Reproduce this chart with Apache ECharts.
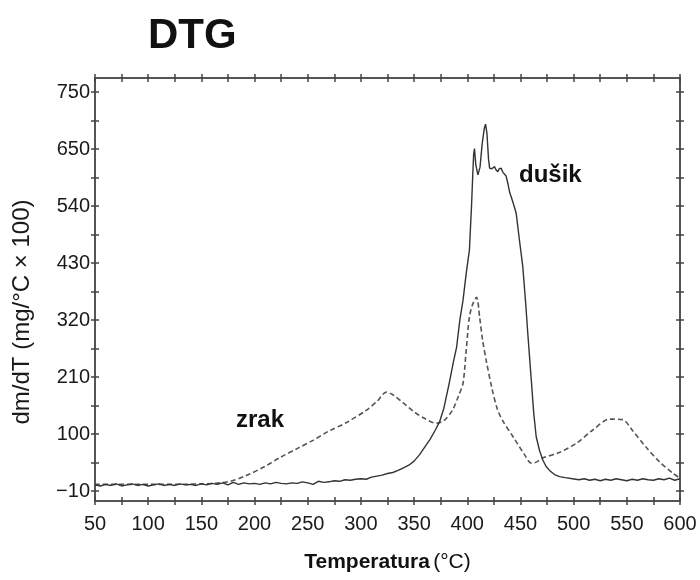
<!DOCTYPE html>
<html><head><meta charset="utf-8">
<script src="https://cdn.jsdelivr.net/npm/echarts@6/dist/echarts.min.js"></script>
<style>html,body{margin:0;padding:0;background:#fff}#c{width:700px;height:580px}</style>
</head><body><div id="c"></div>
<script>
// dušik (nitrogen) – solid curve
const tempDusik = [50,55,60,65,70,75,80,85,90,95,100,105,110,115,120,125,130,135,140,145,150,155,160,165,170,175,180,185,190,195,200,205,210,215,220,225,230,235,240,245,250,255,260,265,270,275,280,285,290,295,300,305,310,315,320,325,330,335,340,345,350,355,360,365,370,374,378,383,387,390,393,396,399,402,404,405.2,406,406.8,408,410,412,414,416,417.2,418.5,420,421,423,425.6,427,428.7,430,431.9,433.5,435,436.5,438.1,440,441.3,442.8,444,446,449,452.2,455,456.9,458.5,460.2,462.5,464.8,468,471,474,477.3,482,486.7,492,499,505,510,515,520,525,530,535,540,545,550,555,560,565,570,575,580,585,590,595,600];
const valDusik = [2,0,3,1,4,0,2,4,1,3,0,2,4,1,3,1,4,2,3,1,4,2,5,3,6,2,7,3,6,4,5,3,6,4,7,5,4,6,5,8,6,3,9,7,8,10,9,12,11,13,14,13,17,19,21,24,26,30,35,40,48,60,75,90,108,124,150,198,240,268,320,358,410,455,540,603,640,651,620,600,615,660,690,698,680,630,613,612,616,610,606,612,613,605,606,598,584,565,558,555,540,526,475,423,350,294,250,204,140,95,68,50,38,30,22,18,16,14,12,14,11,13,10,13,11,14,12,10,13,11,14,12,11,14,12,15,11,14];
// zrak (air) – dashed curve
const tempZrak = [50,100,150,175,192,210,224,240,255,270,287,305,315,324,330,340,350,360,371,378,386,392,396,399,402,405,408.7,411.6,414.4,418,423,428,433,444,454,460,465,471,487,503,518,534,546,555,568,581,593,600];
const valZrak = [3,3,4,8,20,38,55,72,88,106,123,146,163,181,176,160,143,130,121,126,146,175,198,262,326,350,364,326,281,240,190,150,127,92,60,44,46,54,65,83,108,129,128,108,75,46,25,15];
// axes
const xLabelValues = [50,100,150,200,250,300,350,400,450,500,550,600];
const xTickValues = [50,75,100,125,150,175,200,225,250,275,300,325,350,375,400,425,450,475,500,525,550,575,600];
const yLabelValues = [-10,100,210,320,430,540,650,760];
const yLabelTexts = ['\u221210','100','210','320','430','540','650','750'];
const yTickValues = [-10,45,100,155,210,265,320,375,430,485,540,595,650,705,760];
const titleText = 'DTG';
const yTitle = 'dm/dT (mg/\u00B0C \u00D7 100)';
const labelDusik = 'dušik';
const labelZrak = 'zrak';

const NARROW = '"Liberation Sans Narrow","Arial Narrow","Liberation Sans",Arial,sans-serif';
const SANS = '"Liberation Sans",Arial,Helvetica,sans-serif';

function xAx(pos, inside, showLabel, withName) {
  const a = {
    type: 'value', position: pos, min: 50, max: 600,
    axisLine: {show: true, onZero: false, lineStyle: {color: '#555', width: 2}},
    axisTick: {show: true, inside: inside, length: 4, customValues: xTickValues, lineStyle: {color: '#444', width: 1.5}},
    axisLabel: {show: showLabel, customValues: xLabelValues, margin: 13, color: '#1a1a1a', fontSize: 20, fontFamily: NARROW},
    splitLine: {show: false}
  };
  if (withName) {
    a.name = '{b|Temperatura} {n|(\u00B0C)}';
    a.nameLocation = 'middle';
    a.nameGap = 51;
    a.nameTextStyle = {rich: {
      b: {fontSize: 21, fontWeight: 'bold', fontFamily: NARROW, color: '#111'},
      n: {fontSize: 21, fontFamily: NARROW, color: '#111'}
    }};
  }
  return a;
}
function yAx(pos, inside, showLabel) {
  return {
    type: 'value', position: pos, min: -29, max: 787,
    axisLine: {show: true, onZero: false, lineStyle: {color: '#555', width: 2}},
    axisTick: {show: true, inside: inside, length: 4, customValues: yTickValues, lineStyle: {color: '#444', width: 1.5}},
    axisLabel: {show: showLabel, customValues: yLabelValues, margin: 5, color: '#1a1a1a', fontSize: 20, fontFamily: NARROW,
      formatter: function (v) { const i = yLabelValues.indexOf(v); return i >= 0 ? yLabelTexts[i] : ''; }},
    splitLine: {show: false}
  };
}

const chart = echarts.init(document.getElementById('c'), null, {renderer: 'canvas'});
chart.setOption({
  animation: false,
  backgroundColor: '#fff',
  grid: {left: 95, right: 20, top: 78, bottom: 79},
  xAxis: [xAx('bottom', false, true, true), xAx('bottom', true, false), xAx('top', true, false), xAx('top', false, false)],
  yAxis: [yAx('left', false, true), yAx('left', true, false), yAx('right', true, false), yAx('right', false, false)],
  series: [
    {name: 'zrak', type: 'line', showSymbol: false, smooth: 0.3, xAxisIndex: 0, yAxisIndex: 0,
     data: tempZrak.map((t, i) => [t, valZrak[i]]),
     lineStyle: {color: '#555', width: 1.6, type: [5, 3]}},
    {name: 'dušik', type: 'line', showSymbol: false, xAxisIndex: 0, yAxisIndex: 0,
     data: tempDusik.map((t, i) => [t, valDusik[i]]),
     lineStyle: {color: '#333', width: 1.4}}
  ],
  graphic: [
    {type: 'text', left: 148, top: 15, style: {text: titleText, fontSize: 42, fontWeight: 'bold', fontFamily: SANS, fill: '#111'}},
    {type: 'text', x: 22, y: 312, rotation: Math.PI / 2, style: {text: yTitle, fontSize: 24, fontFamily: NARROW, fill: '#1a1a1a', align: 'center', verticalAlign: 'middle'}},
    {type: 'text', left: 519, top: 163, style: {text: labelDusik, fontSize: 24, fontWeight: 'bold', fontFamily: SANS, fill: '#111'}},
    {type: 'text', left: 236, top: 408, style: {text: labelZrak, fontSize: 24, fontWeight: 'bold', fontFamily: SANS, fill: '#111'}}
  ]
});
</script></body></html>
